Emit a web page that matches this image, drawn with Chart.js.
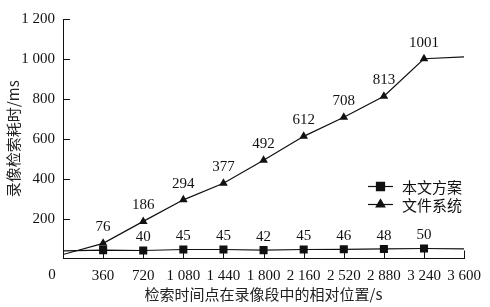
<!DOCTYPE html>
<html>
<head>
<meta charset="utf-8">
<script src="https://cdn.jsdelivr.net/npm/chart.js@4.4.1/dist/chart.umd.min.js"></script>
<style>
    html, body { margin: 0; padding: 0; background: #fff; }
    #wrap { width: 490px; height: 307px; }
</style>
</head>
<body>
<div id="wrap"><canvas id="chart"></canvas></div>
<script>
// --- Data --- //
const positions = [0, 360, 720, 1080, 1440, 1800, 2160, 2520, 2880, 3240, 3600];
const ourScheme = [38, 42, 40, 45, 45, 42, 45, 46, 48, 50, 48];
const fileSystem = [20, 76, 186, 294, 377, 492, 612, 708, 813, 1001, 1010];
// which points carry a printed value (square at 360 is hidden under the triangle)
const ourSchemeLabelled = [false, false, true, true, true, true, true, true, true, true, false];
const fileSystemLabelled = [false, true, true, true, true, true, true, true, true, true, false];
const seriesNames = ['本文方案', '文件系统'];
const yTicks = [0, 200, 400, 600, 800, 1000, 1200];

const serif = "'Liberation Serif', 'DejaVu Serif', serif";
const cjk = "'Noto Sans CJK SC', 'Liberation Serif', sans-serif";
const ink = '#111';

// thousands with a space, like "1 080"
const fmt = (v) => v >= 1000 ? Math.floor(v / 1000) + ' ' + String(v % 1000).padStart(3, '0') : String(v);

// endpoints carry no marker
const radii = (r) => positions.map((p, i) => (i === 0 || i === positions.length - 1) ? 0 : r);
const labelled = [ourSchemeLabelled, fileSystemLabelled];

// inside tick marks, labels over points, origin "0", legend
const extras = {
    id: 'extras',
    afterDatasetsDraw(chart) {
        const { ctx, scales: { x, y } } = chart;
        ctx.save();
        ctx.strokeStyle = ink;
        ctx.lineWidth = 1;
        yTicks.forEach(v => {
            if (v === 0) return;
            const py = Math.round(y.getPixelForValue(v)) + 0.5;
            ctx.beginPath();
            ctx.moveTo(x.left, py);
            ctx.lineTo(x.left + 7, py);
            ctx.stroke();
        });
        positions.forEach(v => {
            if (v === 0) return;
            const px = Math.round(x.getPixelForValue(v)) + 0.5;
            ctx.beginPath();
            ctx.moveTo(px, y.bottom);
            ctx.lineTo(px, y.bottom - 8);
            ctx.stroke();
        });

        // point labels
        ctx.fillStyle = ink;
        ctx.font = '15px ' + serif;
        ctx.textAlign = 'center';
        ctx.textBaseline = 'middle';
        chart.data.datasets.forEach((ds, di) => {
            const meta = chart.getDatasetMeta(di);
            const lift = di === 0 ? 13 : 16;
            meta.data.forEach((pt, i) => {
                if (!labelled[di][i]) return;
                ctx.fillText(String(ds.data[i].y), pt.x, pt.y - lift);
            });
        });

        // shared origin label
        ctx.fillText('0', x.left - 11, y.bottom + 17);

        // legend
        const lx = 368, ly = [186, 204];
        ctx.font = '15px ' + cjk;
        ctx.textAlign = 'left';
        chart.data.datasets.forEach((ds, di) => {
            ctx.beginPath();
            ctx.moveTo(lx, ly[di] + 0.5);
            ctx.lineTo(lx + 25, ly[di] + 0.5);
            ctx.strokeStyle = ink;
            ctx.lineWidth = 1.2;
            ctx.stroke();
            Chart.helpers.drawPoint(ctx, {
                pointStyle: ds.pointStyle, radius: ds.pointRadius[1], rotation: 0, borderWidth: 1
            }, lx + 12.5, ly[di] + 0.5);
            ctx.fillStyle = ink;
            ctx.fill();
            ctx.fillText(ds.label, lx + 34, ly[di] + 1);
        });
        ctx.restore();
    }
};

new Chart(document.getElementById('chart'), {
    type: 'line',
    data: {
        datasets: [
            {
                label: seriesNames[0],
                data: positions.map((p, i) => ({ x: p, y: ourScheme[i] })),
                borderColor: ink,
                backgroundColor: ink,
                borderWidth: 1.2,
                pointStyle: 'rect',
                pointRadius: radii(5.7),
                pointBorderWidth: 0,
                tension: 0
            },
            {
                label: seriesNames[1],
                data: positions.map((p, i) => ({ x: p, y: fileSystem[i] })),
                borderColor: ink,
                backgroundColor: ink,
                borderWidth: 1.2,
                pointStyle: 'triangle',
                pointRadius: radii(5),
                pointBorderWidth: 0,
                tension: 0
            }
        ]
    },
    options: {
        responsive: true,
        maintainAspectRatio: false,
        animation: false,
        layout: { padding: { top: 19, right: 20, bottom: 0, left: 0 } },
        plugins: {
            legend: { display: false },
            tooltip: { enabled: false }
        },
        scales: {
            x: {
                type: 'linear',
                min: 0,
                max: 3600,
                afterBuildTicks: (scale) => { scale.ticks = positions.map(v => ({ value: v })); },
                afterFit: (scale) => { scale.height = 48.5; },
                grid: { display: false, drawTicks: false },
                border: { display: true, color: ink, width: 1 },
                ticks: {
                    color: ink,
                    font: { family: serif, size: 15 },
                    padding: 9,
                    maxRotation: 0,
                    autoSkip: false,
                    callback: (v) => v === 0 ? '' : fmt(v)
                },
                title: {
                    display: true,
                    text: '检索时间点在录像段中的相对位置/s',
                    color: '#222',
                    font: { family: cjk, size: 15 },
                    padding: { top: 4, bottom: 4 }
                }
            },
            y: {
                min: 0,
                max: 1200,
                afterBuildTicks: (scale) => { scale.ticks = yTicks.map(v => ({ value: v })); },
                afterFit: (scale) => { scale.width = 63; },
                grid: { display: false, drawTicks: false },
                border: { display: true, color: ink, width: 1 },
                ticks: {
                    color: ink,
                    font: { family: serif, size: 15 },
                    padding: 8,
                    callback: (v) => v === 0 ? '' : fmt(v)
                },
                title: {
                    display: true,
                    text: '录像检索耗时/ms',
                    color: '#222',
                    font: { family: cjk, size: 15 },
                    padding: { top: 4, bottom: 4 }
                }
            }
        }
    },
    plugins: [extras]
});
</script>
</body>
</html>
